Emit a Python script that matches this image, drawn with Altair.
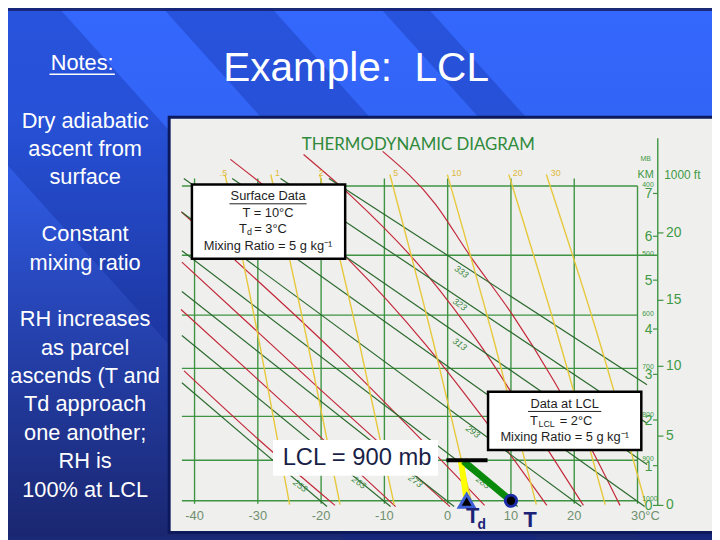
import altair as alt
import pandas as pd

W, H = 712, 532          # plot area = visible page below the 8px body margin
OFF = 8
FONT = "Liberation Sans"

# ---------------- values ----------------
isobar_p = [1000, 900, 800, 700, 600, 500, 400]
isobar_T_left = [-42, -42, -42, -42, -42, -42, -42]
isobar_T_right = [30, 30, 30, 30, 30, 33.2, 30]
isotherm_T = [-40, -30, -20, -10, 0, 10, 20, 30]
isotherm_p_top = [390, 390, 390, 390, 390, 390, 390, 400]
isotherm_p_bot = [1008, 1008, 1008, 1008, 1008, 1008, 1008, 1008]
temp_labels = ["-40", "-30", "-20", "-10", "0", "10", "20", "30°C"]

dry_theta = [253, 263, 273, 283, 293, 303, 313, 323, 333]
dry_T_top = [-42, -42, -42, -42, -42, -41.7, -34.05, -26.41, -18.77]
dry_p_top = [729, 637, 559, 493, 436, 390, 390, 390, 390]
dry_T_bot = [-19.07, -9.03, 1.02, 11.06, 21.10, 31.14, 31.5, 31.5, 31.5]
dry_p_bot = [1015, 1015, 1015, 1015, 1015, 1015, 910, 815, 733]
dry_lab = ["253", "263", "273", "283", "293", "313", "323", "333"]
dry_lab_T = [-23.3, -14.0, -5.1, 5.6, 4.0, 1.9, 1.9, 2.2]
dry_lab_p = [962, 954, 951, 954, 834, 653, 581, 526]

mr_w = [".5", "1", "2", "5", "10", "20", "30"]
mr_p = [385, 650, 1010]
mr_T = [[-35.18, -29.76, -24.97],
        [-27.95, -22.15, -17.01],
        [-20.22, -13.98, -8.45],
        [-9.13, -2.25, 3.86],
        [-0.05, 7.39, 14.01],
        [9.66, 17.71, 24.89],
        [15.60, 24.04, 31.3]]
mr_lab_T = [-36.0, -27.3, -20.4, -8.6, 0.6, 10.3, 16.3]

# red (saturated) lines: (p mb list, T degC list)
moist = [
    ([704.9, 852.9, 1011.9], [-41.67, -29.80, -17.81]),
    ([589.9, 787.0, 1015], [-42.14, -24.64, -8.23]),
    ([510.8, 745.2, 1015], [-42.0, -19.95, 0.36]),
    ([435.3, 681.5, 1011.9], [-42.1, -16.83, 5.83]),
    ([365.6, 510.8, 653.0, 837.2, 1011.9], [-34.33, -15.27, -3.55, 7.39, 15.67]),
    ([359.5, 413.3, 531.3, 653.0, 826.1, 1011.9], [-22.77, -15.27, -3.23, 5.05, 13.64, 21.45]),
    ([355.8, 424.2, 500.1, 598.7, 724.8, 864.3, 1011.9],
     [-10.27, -1.98, 3.48, 10.20, 16.77, 22.39, 27.23]),
]

axis_T = 33.2
axis_p = [340, 1013]
km_labels = ["0", "1", "2", "3", "4", "5", "6", "7"]
km_p = [1012, 913, 808, 712, 625, 540, 471, 410]
ft_labels = ["0", "5", "10", "15", "20"]
ft_p = [1012, 844, 696, 574, 466]

sfc_T, sfc_Td, sfc_p = 10, 3, 1000
lcl_T, lcl_Td, lcl_p = 2.5, 2.1, 902
lcl_bar_T = [-0.2, 6.3]

notes = ["Dry adiabatic", "ascent from", "surface", "",
         "Constant", "mixing ratio", "",
         "RH increases", "as parcel", "ascends (T and", "Td approach",
         "one another;", "RH is", "100% at LCL"]

# ---------------- scales ----------------
xs = alt.Scale(domain=[-69.48, 41.77], nice=False, zero=False)
ys = alt.Scale(type="pow", exponent=0.286, domain=[211.5, 1096.0], reverse=True,
               nice=False, zero=False)


def ex(f):
    return alt.X(f, type="quantitative", scale=xs, axis=None)


def ey(f):
    return alt.Y(f, type="quantitative", scale=ys, axis=None)


ONE = alt.Data(values=[{"a": 0}])


def ptext(s, x, y, size, color, align="center", baseline="middle", font=FONT,
          weight="normal", style="normal", angle=0):
    return alt.Chart(ONE).mark_text(text=s, fontSize=size, color=color, align=align,
                                    baseline=baseline, font=font, fontWeight=weight,
                                    fontStyle=style, angle=angle).encode(
        x=alt.value(x - OFF), y=alt.value(y - OFF))


def prect(x1, y1, x2, y2, fill, stroke=None, sw=0):
    kw = dict(fill=fill, strokeWidth=sw)
    if stroke:
        kw["stroke"] = stroke
    return alt.Chart(ONE).mark_rect(**kw).encode(
        x=alt.value(x1 - OFF), x2=alt.value(x2 - OFF),
        y=alt.value(y1 - OFF), y2=alt.value(y2 - OFF))


def prule(x1, y1, x2, y2, color, width, opacity=1.0):
    return alt.Chart(ONE).mark_rule(color=color, strokeWidth=width, strokeCap="butt",
                                    opacity=opacity).encode(
        x=alt.value(x1 - OFF), x2=alt.value(x2 - OFF),
        y=alt.value(y1 - OFF), y2=alt.value(y2 - OFF))


layers = []

# ---------------- slide background ----------------
grad = alt.Gradient(gradient="linear", x1=0, x2=0, y1=0, y2=1,
                    stops=[alt.GradientStop(color="#3467fc", offset=0),
                           alt.GradientStop(color="#3264f6", offset=0.2),
                           alt.GradientStop(color="#2746b8", offset=0.55),
                           alt.GradientStop(color="#1a2670", offset=1)])
layers.append(alt.Chart(ONE).mark_rect(color=grad).encode(
    x=alt.value(0), x2=alt.value(W), y=alt.value(0), y2=alt.value(H)))
for xa, xb in [(-140, 55), (160, 270), (380, 428)]:
    s = 0.9
    xc = (xa + xb) / 2
    wdt = (xb - xa) / (1 + s * s) ** 0.5
    layers.append(prule(xc - s * 20, -20, xc + s * 600, 600, "#0a1f8a", wdt, 0.28))

# ---------------- panel ----------------
layers.append(prect(171, 115.5, 722, 535.5, "#efefed", "#0c1a5c", 3))

# ---------------- diagram ----------------
iso = pd.DataFrame({"p": isobar_p, "T1": isobar_T_left, "T2": isobar_T_right})
layers.append(alt.Chart(iso).mark_rule(color="#3f9443", strokeWidth=1.4).encode(
    x=ex("T1"), x2=alt.X2("T2"), y=ey("p")))

ith = pd.DataFrame({"T": isotherm_T, "p1": isotherm_p_top, "p2": isotherm_p_bot})
layers.append(alt.Chart(ith).mark_rule(color="#3f9443", strokeWidth=1.4).encode(
    x=ex("T"), y=ey("p1"), y2=alt.Y2("p2")))

tl = pd.DataFrame({"T": isotherm_T, "lab": temp_labels, "p": [1040] * 8})
layers.append(alt.Chart(tl.iloc[:7]).mark_text(fontSize=13, color="#6f8f70", font=FONT).encode(
    x=ex("T"), y=ey("p"), text="lab:N"))
layers.append(alt.Chart(tl.iloc[7:]).mark_text(fontSize=13, color="#6f8f70", font=FONT,
                                               dx=8).encode(
    x=ex("T"), y=ey("p"), text="lab:N"))

rows = []
for i, (ps, ts) in enumerate(moist):
    for k, (p, t) in enumerate(zip(ps, ts)):
        rows.append({"id": i, "k": k, "p": p, "T": t})
layers.append(alt.Chart(pd.DataFrame(rows)).mark_line(color="#c3283a", strokeWidth=1.2,
                                                      interpolate="monotone").encode(
    x=ex("T"), y=ey("p"), detail="id:N", order="k:Q"))

dry = pd.DataFrame({"th": dry_theta, "T1": dry_T_top, "p1": dry_p_top,
                    "T2": dry_T_bot, "p2": dry_p_bot})
layers.append(alt.Chart(dry).mark_rule(color="#2b6a2e", strokeWidth=1.2).encode(
    x=ex("T1"), y=ey("p1"), x2=alt.X2("T2"), y2=alt.Y2("p2")))
dl = pd.DataFrame({"lab": dry_lab, "T": dry_lab_T, "p": dry_lab_p})
layers.append(alt.Chart(dl).mark_text(fontSize=9, color="#3d8a45", fontStyle="italic",
                                      angle=36, font=FONT).encode(
    x=ex("T"), y=ey("p"), text="lab:N"))

rows = []
for i, ts in enumerate(mr_T):
    for k, (p, t) in enumerate(zip(mr_p, ts)):
        rows.append({"id": i, "k": k, "p": p, "T": t})
layers.append(alt.Chart(pd.DataFrame(rows)).mark_line(color="#e7c83c", strokeWidth=1.4,
                                                      interpolate="monotone").encode(
    x=ex("T"), y=ey("p"), detail="id:N", order="k:Q"))
ml = pd.DataFrame({"lab": mr_w, "T": mr_lab_T, "p": [383] * len(mr_w)})
layers.append(alt.Chart(ml).mark_text(fontSize=9, color="#e0b83a", font=FONT, align="left").encode(
    x=ex("T"), y=ey("p"), text="lab:N"))

ax = pd.DataFrame({"T": [axis_T], "p1": [axis_p[0]], "p2": [axis_p[1]]})
layers.append(alt.Chart(ax).mark_rule(color="#3f9443", strokeWidth=1.4).encode(
    x=ex("T"), y=ey("p1"), y2=alt.Y2("p2")))
km = pd.DataFrame({"lab": km_labels, "p": km_p, "T": [32.35] * 8, "t1": [32.45] * 8,
                   "t2": [axis_T] * 8})
layers.append(alt.Chart(km).mark_rule(color="#3f9443", strokeWidth=1.2).encode(
    x=ex("t1"), x2=alt.X2("t2"), y=ey("p")))
layers.append(alt.Chart(km).mark_text(fontSize=14, color="#3f9a45", font=FONT, align="right",
                                      dy=1).encode(
    x=ex("T"), y=ey("p"), text="lab:N"))
ft = pd.DataFrame({"lab": ft_labels, "p": ft_p, "T": [34.5] * 5, "t1": [axis_T] * 5,
                   "t2": [34.1] * 5})
layers.append(alt.Chart(ft).mark_rule(color="#3f9443", strokeWidth=1.2).encode(
    x=ex("t1"), x2=alt.X2("t2"), y=ey("p")))
layers.append(alt.Chart(ft).mark_text(fontSize=14, color="#3f9a45", font=FONT, align="left").encode(
    x=ex("T"), y=ey("p"), text="lab:N"))
mb = pd.DataFrame({"lab": [str(v) for v in isobar_p], "p": isobar_p, "T": [30.75] * 7})
layers.append(alt.Chart(mb).mark_text(fontSize=7, color="#3f9a45", font=FONT, align="left",
                                      baseline="middle", dy=-1.5).encode(
    x=ex("T"), y=ey("p"), text="lab:N"))
layers.append(ptext("MB", 653, 158, 7, "#3f9a45"))
layers.append(ptext("KM", 653, 173.5, 11, "#3f9a45"))
layers.append(ptext("1000 ft", 690, 174, 12, "#3f9a45"))
layers.append(ptext("THERMODYNAMIC DIAGRAM", 423, 143.5, 17, "#2f8a3c", font="Lato"))

# ---------------- the parcel ----------------
ylw = pd.DataFrame({"T": [sfc_Td, lcl_Td], "p": [sfc_p, lcl_p], "k": [0, 1]})
layers.append(alt.Chart(ylw).mark_line(color="#ffff00", strokeWidth=6).encode(
    x=ex("T"), y=ey("p"), order="k:Q"))
grn = pd.DataFrame({"T": [sfc_T, lcl_T], "p": [sfc_p, lcl_p], "k": [0, 1]})
layers.append(alt.Chart(grn).mark_line(color="#0a8a0a", strokeWidth=7).encode(
    x=ex("T"), y=ey("p"), order="k:Q"))
bar = pd.DataFrame({"T1": [lcl_bar_T[0]], "T2": [lcl_bar_T[1]], "p": [900]})
layers.append(alt.Chart(bar).mark_rule(color="#000000", strokeWidth=4).encode(
    x=ex("T1"), x2=alt.X2("T2"), y=ey("p")))
tri = pd.DataFrame({"T": [sfc_Td], "p": [sfc_p]})
layers.append(alt.Chart(tri).mark_point(shape="triangle-up", filled=True, size=230,
                                        color="#000000", stroke="#3d5fd6", strokeWidth=3,
                                        opacity=1).encode(x=ex("T"), y=ey("p")))
cir = pd.DataFrame({"T": [sfc_T], "p": [sfc_p]})
layers.append(alt.Chart(cir).mark_point(shape="circle", filled=True, size=130,
                                        color="#000000", stroke="#1c2ca8", strokeWidth=3,
                                        opacity=1).encode(x=ex("T"), y=ey("p")))

# ---------------- annotation boxes ----------------
TXT = "#1e1e1e"
layers.append(prect(194, 183.5, 349, 258.5, "#ffffff", "#000000", 2.5))
layers.append(ptext("Surface Data", 271, 195.5, 13, TXT))
layers.append(prule(232, 203, 310, 203, TXT, 1))
layers.append(ptext("T = 10°C", 271, 212, 13, TXT))
layers.append(ptext("T", 249.5, 228.5, 13, TXT, align="right"))
layers.append(ptext("d", 249.8, 232, 9, TXT, align="left"))
layers.append(ptext("= 3°C", 257, 228.5, 13, TXT, align="left"))
layers.append(ptext("Mixing Ratio = 5 g kg⁻¹", 271, 246, 13, TXT))

layers.append(prect(493.5, 393, 648.5, 452, "#ffffff", "#000000", 2.5))
layers.append(ptext("Data at LCL", 571, 405.5, 13, TXT))
layers.append(prule(534, 413, 608, 413, TXT, 1))
layers.append(ptext("T", 544, 422.5, 13, TXT, align="right"))
layers.append(ptext("LCL", 544.5, 426, 9, TXT, align="left"))
layers.append(ptext("= 2°C", 566, 422.5, 13, TXT, align="left"))
layers.append(ptext("Mixing Ratio = 5 g kg⁻¹", 571, 438.5, 13, TXT))

layers.append(prect(276, 442, 443, 478, "#ffffff"))
layers.append(ptext("LCL = 900 mb", 361, 460.5, 24, "#1a1f48"))

layers.append(ptext("T", 478, 519, 22, "#1a2378", weight="bold"))
layers.append(ptext("d", 487, 528, 14, "#1a2378", weight="bold"))
layers.append(ptext("T", 536, 523, 22, "#1a2378", weight="bold"))

# ---------------- slide texts ----------------
layers.append(ptext("Example:\u00a0 LCL", 360, 67, 41, "#ffffff"))
layers.append(ptext("Notes:", 83, 61, 22, "#ffffff"))
layers.append(prule(50, 72, 116, 72, "#ffffff", 1.5))
for i, s in enumerate(notes):
    if s:
        layers.append(ptext(s, 86, 119 + 28.7 * i, 22, "#ffffff"))

chart = alt.layer(*layers).properties(
    width=W, height=H, padding=0, autosize=alt.AutoSizeParams(type="none"),
    background="#1b2a78"
).configure_view(stroke=None)

chart.save("out.html", embed_options={"renderer": "svg", "actions": False})
